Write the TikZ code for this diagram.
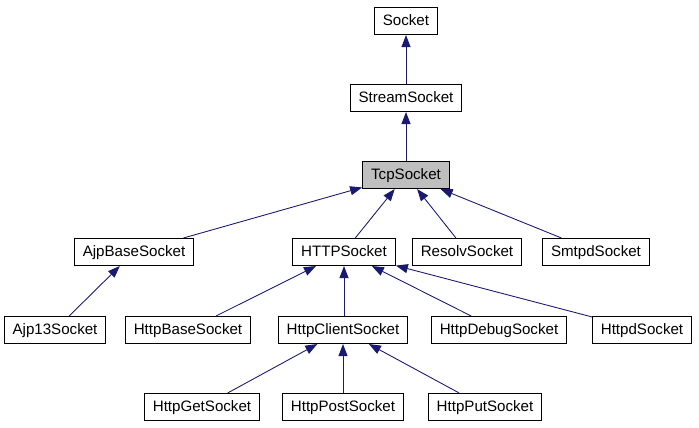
\documentclass[tikz,border=0pt]{standalone}
\usepackage{fontspec}
\setmainfont{Liberation Sans}
\usetikzlibrary{arrows.meta}
\definecolor{edgeblue}{HTML}{191970}
\tikzset{
  cls/.style={draw=black,line width=0.6pt,fill=white,inner xsep=0.17cm,inner ysep=0pt,
    text height=0.23cm,text depth=0.06cm,minimum height=0.54cm,font=\fontsize{8.6}{10}\selectfont},
  inh/.style={draw=edgeblue,line width=0.5pt,-{Triangle[length=0.24cm,width=0.18cm]}}
}
\begin{document}
\begin{tikzpicture}[x=0.02cm,y=-0.02cm]
\useasboundingbox (0,0) rectangle (699,427);

% top of the tree
\node[cls] (sock)   at (406,21)  {Socket};
\node[cls] (stream) at (406,98)  {StreamSocket};
\node[cls,fill=black!25] (tcp) at (406,175) {TcpSocket};

% second row
\node[cls] (ajpbase) at (134,252) {AjpBaseSocket};
\node[cls] (http)    at (344,252) {HTTPSocket};
\node[cls] (resolv)  at (467,252) {ResolvSocket};
\node[cls] (smtpd)   at (596,252) {SmtpdSocket};

% third row
\node[cls] (ajp13)     at (55,330)  {Ajp13Socket};
\node[cls] (httpbase)  at (188,330) {HttpBaseSocket};
\node[cls] (client)    at (343,330) {HttpClientSocket};
\node[cls] (debug)     at (499,330) {HttpDebugSocket};
\node[cls] (httpd)     at (642,330) {HttpdSocket};

% bottom row
\node[cls] (get)  at (202,407) {HttpGetSocket};
\node[cls] (post) at (343,407) {HttpPostSocket};
\node[cls] (put)  at (485,407) {HttpPutSocket};

\draw[inh] (stream) -- (sock);
\draw[inh] (tcp) -- (stream);

\draw[inh] (ajpbase) -- (tcp);
\draw[inh] (http) -- (tcp);
\draw[inh] (resolv) -- (tcp);
\draw[inh] (smtpd) -- (tcp);

\draw[inh] (ajp13) -- (ajpbase);
\draw[inh] (httpbase) -- (http);
\draw[inh] (client.north -| http.south) -- (http);
\draw[inh] (debug) -- (http);
\draw[inh] (httpd) -- (http);

\draw[inh] (get) -- (client);
\draw[inh] (post) -- (client);
\draw[inh] (put) -- (client);
\end{tikzpicture}
\end{document}
